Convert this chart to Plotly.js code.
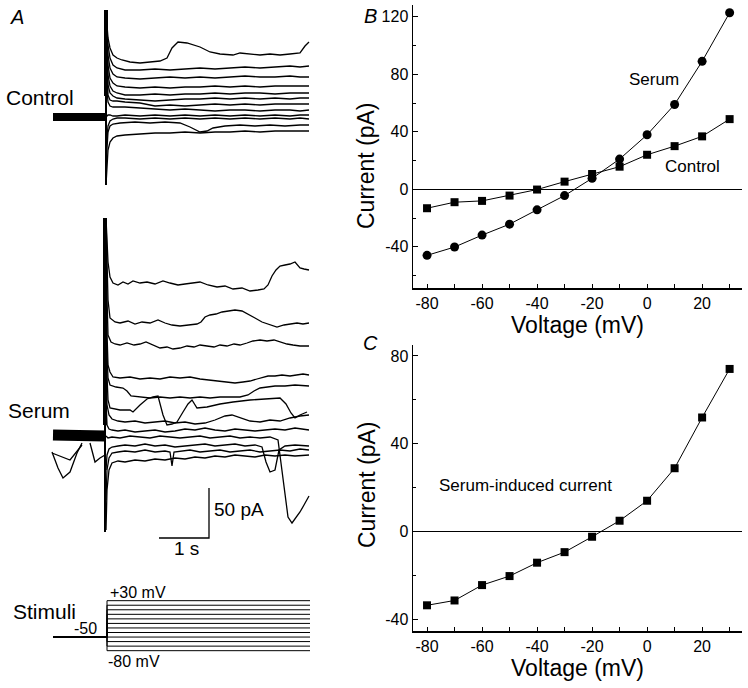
<!DOCTYPE html>
<html>
<head>
<meta charset="utf-8">
<script src="https://cdn.plot.ly/plotly-3.0.1.min.js"></script>
<style>html,body{margin:0;padding:0;background:#fff;}#chart{width:748px;height:688px;}</style>
</head>
<body>
<div id="chart"></div>
<script>
// ---------- Panels B and C: I-V data ----------
const voltages = [-80, -70, -60, -50, -40, -30, -20, -10, 0, 10, 20, 30];
const serumIV = [-46, -40.2, -31.9, -24.3, -14.3, -4.4, 7.6, 21, 37.9, 59, 89, 122.8];
const controlIV = [-13.2, -9, -8.1, -4.4, -0.2, 5.3, 10.6, 15.7, 24, 30, 36.8, 48.8];
const inducedIV = [-33.5, -31.3, -24.3, -20.2, -14.1, -9.3, -2.3, 5, 14.1, 28.9, 52, 74.1];

const xTickVals = [-80, -60, -40, -20, 0, 20];
const xTickText = ['-80', '-60', '-40', '-20', '0', '20'];
const xMinorVals = [-70, -50, -30, -10, 10, 30];
const bTickVals = [-40, 0, 40, 80, 120];
const bTickText = ['-40', '0', '40', '80', '120'];
const bMinorVals = [-60, -20, 20, 60, 100];
const cTickVals = [-40, 0, 40, 80];
const cTickText = ['-40', '0', '40', '80'];
const cMinorVals = [-20, 20, 60];

// ---------- Panel A: current traces (time in s, current in pA) ----------
const ctrlGridT = [0, 0.02, 0.04, 0.08, 0.14, 0.22, 0.38, 0.68, 0.98, 1.28, 1.58, 1.88, 2.18, 2.48, 2.78, 3.08, 3.38, 3.68, 3.88, 4.06];
const ctrlT_30 = [0, 0.02, 0.04, 0.08, 0.14, 0.22, 0.32, 0.48, 0.68, 0.88, 1.08, 1.22, 1.32, 1.44, 1.62, 1.88, 2.08, 2.28, 2.54, 2.68, 2.88, 3.08, 3.28, 3.48, 3.68, 3.88, 3.98, 4.06];
const ctrlI_30 = [104, 91, 78, 68, 61, 58, 56, 54, 53, 54, 55, 58, 68, 74, 73, 69, 64, 62, 61, 63, 62, 61, 62, 61, 62, 63, 70, 74];
const ctrlI_20 = [102, 86, 71, 58, 51, 48, 46, 46, 47, 46, 47, 48, 47, 48, 49, 48, 49, 50, 49, 50];
const ctrlI_10 = [100, 78, 61, 48, 42, 39, 38, 37, 38, 39, 38, 39, 38, 39, 40, 39, 39, 40, 39, 39];
const ctrlI_0 = [98, 71, 51, 38, 33, 30, 29, 28, 29, 28, 29, 29, 30, 29, 30, 29, 30, 30, 30, 30];
const ctrlI_m10 = [96, 61, 41, 30, 25, 23, 21, 21, 22, 21, 22, 22, 23, 22, 23, 23, 22, 23, 23, 23];
const ctrlI_m20 = [91, 51, 31, 23, 20, 18, 17, 16, 15, 16, 17, 17, 18, 17, 18, 17, 18, 17, 18, 18];
const ctrlI_m30 = [86, 41, 21, 16, 15, 15, 14, 13, 10, 11, 10, 11, 12, 11, 12, 11, 12, 12, 12, 12];
const ctrlI_m40 = [76, 26, 14, 10, 9, 9, 9, 8, 7, 6, 7, 6, 5, 6, 6, 5, 6, 6, 5, 6];
const ctrlI_m50 = [0, 0, 1, 1, 0, 0, 1, 0, 1, 0, 1, 0, 1, 0, 1, 0, 1, 0, 1, 1];
const ctrlI_m60 = [-34, -19, -10, -5, -3, -2, -2, -3, -2, -3, -2, -3, -2, -3, -2, -3, -2, -3, -2, -3];
const ctrlT_m70 = [0, 0.02, 0.04, 0.08, 0.14, 0.28, 0.58, 0.88, 1.18, 1.48, 1.68, 1.88, 2.02, 2.14, 2.38, 2.68, 2.98, 3.28, 3.58, 3.88, 4.06];
const ctrlI_m70 = [-49, -29, -16, -10, -8, -7, -6, -7, -6, -7, -11, -16, -15, -12, -10, -9, -10, -9, -10, -9, -9];
const ctrlI_m80 = [-69, -49, -34, -26, -22, -20, -19, -18, -17, -17, -16, -17, -16, -16, -15, -16, -15, -15, -15, -15];
const ctrlPreT = [-1.06, -0.7, -0.35, 0];
const ctrlPreI = [-1, -0.5, -1, -1];
const ctrlSpikeI = [106, -69];

const serT_30 = [0, 0.04, 0.08, 0.14, 0.24, 0.34, 0.44, 0.54, 0.68, 0.82, 0.98, 1.14, 1.28, 1.44, 1.58, 1.74, 1.88, 2.04, 2.22, 2.38, 2.54, 2.72, 2.88, 3.04, 3.16, 3.24, 3.32, 3.40, 3.48, 3.58, 3.68, 3.78, 3.88, 3.96, 4.06];
const serI_30 = [217, 173, 158, 152, 150, 153, 151, 154, 152, 153, 151, 154, 152, 150, 151, 152, 153, 150, 148, 149, 146, 147, 144, 145, 146, 150, 159, 165, 169, 170, 171, 173, 167, 166, 165];
const serT_20 = [0, 0.04, 0.08, 0.18, 0.28, 0.44, 0.58, 0.72, 0.88, 1.04, 1.18, 1.32, 1.48, 1.64, 1.82, 1.90, 1.98, 2.08, 2.20, 2.32, 2.44, 2.58, 2.72, 2.84, 2.98, 3.12, 3.28, 3.42, 3.56, 3.68, 3.82, 3.94, 4.06];
const serI_20 = [217, 135, 117, 113, 112, 114, 111, 113, 112, 115, 112, 110, 109, 110, 111, 113, 118, 120, 121, 123, 124, 125, 124, 121, 117, 113, 110, 108, 110, 111, 112, 111, 112];
const serT_10 = [0, 0.04, 0.10, 0.18, 0.28, 0.42, 0.56, 0.68, 0.80, 0.94, 1.08, 1.22, 1.34, 1.48, 1.62, 1.76, 1.88, 2.02, 2.16, 2.28, 2.42, 2.56, 2.68, 2.82, 2.94, 3.08, 3.22, 3.36, 3.48, 3.62, 3.74, 3.88, 4.06];
const serI_10 = [175, 100, 93, 91, 90, 92, 90, 91, 93, 90, 87, 88, 86, 87, 89, 88, 90, 89, 88, 90, 89, 91, 90, 92, 94, 95, 94, 95, 93, 91, 90, 89, 89];
const serT_0 = [0, 0.04, 0.08, 0.14, 0.28, 0.48, 0.68, 0.88, 1.08, 1.28, 1.48, 1.68, 1.88, 2.08, 2.28, 2.42, 2.58, 2.74, 2.88, 3.02, 3.14, 3.24, 3.38, 3.52, 3.68, 3.82, 3.94, 4.06];
const serI_0 = [135, 70, 63, 58, 57, 58, 56, 57, 56, 58, 57, 58, 56, 55, 54, 53, 52, 53, 54, 56, 58, 59, 59, 60, 59, 60, 61, 60];
const serT_m10 = [0, 0.04, 0.08, 0.20, 0.34, 0.42, 0.50, 0.68, 0.88, 1.08, 1.28, 1.48, 1.68, 1.88, 2.08, 2.28, 2.48, 2.68, 2.84, 2.96, 3.08, 3.20, 3.38, 3.58, 3.78, 4.06];
const serI_m10 = [105, 57, 50, 48, 47, 44, 39, 38, 37, 38, 37, 38, 37, 38, 37, 38, 38, 38, 40, 44, 47, 48, 49, 49, 50, 49];
const serT_m20 = [0, 0.04, 0.08, 0.28, 0.48, 0.54, 0.68, 0.82, 0.94, 1.04, 1.14, 1.22, 1.32, 1.42, 1.54, 1.64, 1.72, 1.82, 2.02, 2.28, 2.54, 2.88, 3.18, 3.48, 3.60, 3.70, 3.78, 3.88, 4.02];
const serI_m20 = [85, 35, 27, 25, 25, 23, 30, 36, 38, 39, 20, 10, 11, 13, 23, 31, 35, 27, 28, 31, 33, 35, 36, 37, 31, 22, 17, 20, 23];
const serT_m30 = [0, 0.02, 0.06, 0.12, 0.24, 0.38, 0.58, 0.78, 0.98, 1.18, 1.38, 1.58, 1.78, 1.98, 2.18, 2.38, 2.52, 2.68, 2.88, 3.08, 3.28, 3.48, 3.68, 3.88, 4.06];
const serI_m30 = [65, 30, 20, 16, 14, 13, 14, 12, 13, 14, 12, 13, 11, 12, 15, 19, 20, 17, 14, 13, 15, 14, 17, 19, 20];
const serGridT = [0, 0.02, 0.06, 0.12, 0.24, 0.38, 0.58, 0.78, 0.98, 1.18, 1.38, 1.58, 1.78, 1.98, 2.18, 2.38, 2.58, 2.78, 2.98, 3.18, 3.38, 3.58, 3.78, 4.06];
const serI_m40 = [35, 10, 6, 5, 4, 5, 3, 4, 5, 3, 4, 6, 5, 7, 5, 4, 6, 5, 4, 5, 6, 5, 7, 5];
const serT_m50 = [0, 0.04, 0.12, 0.28, 0.48, 0.68, 0.88, 1.08, 1.28, 1.48, 1.68, 1.88, 2.08, 2.28, 2.48, 2.68, 2.88, 3.08, 3.28, 3.44, 3.54, 3.64, 3.72, 3.80, 3.88, 3.96, 4.06];
const serI_m50 = [-1, -3, -2, -3, -1, -2, -3, -1, -2, -3, -2, -1, -3, -2, -1, -3, -2, -3, -2, -5, -45, -82, -88, -83, -77, -70, -61];
const serT_m60 = [0, 0.02, 0.06, 0.12, 0.24, 0.38, 0.58, 0.78, 0.98, 1.18, 1.38, 1.58, 1.78, 1.98, 2.18, 2.38, 2.58, 2.78, 2.98, 3.12, 3.20, 3.28, 3.38, 3.46, 3.58, 3.78, 4.06];
const serI_m60 = [-35, -20, -14, -12, -11, -10, -11, -9, -11, -10, -12, -11, -10, -9, -11, -10, -9, -11, -10, -12, -27, -37, -35, -15, -11, -10, -11];
const serT_m70 = [0, 0.02, 0.06, 0.12, 0.24, 0.38, 0.58, 0.78, 0.98, 1.18, 1.28, 1.32, 1.36, 1.48, 1.68, 1.88, 2.08, 2.28, 2.48, 2.68, 2.88, 3.08, 3.28, 3.48, 3.68, 3.88, 4.06];
const serI_m70 = [-65, -35, -23, -18, -17, -16, -17, -15, -17, -16, -17, -31, -17, -16, -15, -17, -16, -15, -17, -16, -15, -17, -16, -15, -16, -14, -15];
const serI_m80 = [-95, -55, -35, -28, -26, -27, -25, -26, -24, -25, -23, -24, -22, -23, -21, -22, -20, -21, -22, -20, -21, -20, -21, -20];
const serPreT = [-1.06, -0.7, -0.35, -0.02];
const serPreI = [0, -1, 0, -1];
const serPreEvtT1 = [-1.08, -0.96, -0.86, -0.72, -0.58, -0.48];
const serPreEvtI1 = [-17, -33, -43, -37, -18, -8];
const serPreEvtT2 = [-0.32, -0.22, -0.12, -0.02];
const serPreEvtI2 = [-8, -27, -23, -20];
const serPreEvtT3 = [-1.08, -0.72, -0.48];
const serPreEvtI3 = [-18, -25, -10];
const serSpikeI = [217, -97];

// scale bar: 1 s and 50 pA
const scaleBarT = [1.06, 2.06, 2.06];
const scaleBarI = [-103, -103, -53];

// stimuli (mV)
const holdingMV = -50;
const stepMV = [-80, -70, -60, -50, -40, -30, -20, -10, 0, 10, 20, 30];
const stimT = [-1.06, 0.02, 0.02, 4.08];

// ---------- helpers (layout positions in pixels) ----------
const W = 748, H = 688;
const px = x => x / W;
const py = y => 1 - y / H;
const FONT = 'Liberation Sans, Arial, Helvetica, sans-serif';
const K = '#000';

const traces = [];
function ln(x, y, xa, ya, w) {
  traces.push({x: x, y: y, xaxis: xa, yaxis: ya, type: 'scatter', mode: 'lines',
    line: {color: K, width: w || 1.3}, hoverinfo: 'skip'});
}

// Control traces
ln(ctrlPreT, ctrlPreI, 'x3', 'y3', 8);
ln(ctrlT_30, ctrlI_30, 'x3', 'y3');
[ctrlI_20, ctrlI_10, ctrlI_0, ctrlI_m10, ctrlI_m20, ctrlI_m30, ctrlI_m40, ctrlI_m50, ctrlI_m60, ctrlI_m80]
  .forEach(a => ln(ctrlGridT, a, 'x3', 'y3'));
ln(ctrlT_m70, ctrlI_m70, 'x3', 'y3');
ln([0, 0], ctrlSpikeI, 'x3', 'y3', 2);
ln([0, 0], [ctrlSpikeI[0], 20], 'x3', 'y3', 4);

// Serum traces
ln(serPreT, serPreI, 'x4', 'y4', 11);
ln(serPreEvtT1, serPreEvtI1, 'x4', 'y4');
ln(serPreEvtT2, serPreEvtI2, 'x4', 'y4');
ln(serPreEvtT3, serPreEvtI3, 'x4', 'y4');
ln(serT_30, serI_30, 'x4', 'y4');
ln(serT_20, serI_20, 'x4', 'y4');
ln(serT_10, serI_10, 'x4', 'y4');
ln(serT_0, serI_0, 'x4', 'y4');
ln(serT_m10, serI_m10, 'x4', 'y4');
ln(serT_m20, serI_m20, 'x4', 'y4');
ln(serT_m30, serI_m30, 'x4', 'y4');
ln(serGridT, serI_m40, 'x4', 'y4');
ln(serT_m50, serI_m50, 'x4', 'y4');
ln(serT_m60, serI_m60, 'x4', 'y4');
ln(serT_m70, serI_m70, 'x4', 'y4');
ln(serGridT, serI_m80, 'x4', 'y4');
ln([-0.02, -0.02], serSpikeI, 'x4', 'y4', 2);
ln([-0.02, -0.02], [serSpikeI[0], 10], 'x4', 'y4', 4);
ln(scaleBarT, scaleBarI, 'x4', 'y4', 1.3);

// Stimuli
stepMV.forEach(v => ln(stimT, [holdingMV, holdingMV, v, v], 'x5', 'y5', 1));

// Panel B
traces.push({x: voltages, y: serumIV, xaxis: 'x', yaxis: 'y', type: 'scatter', mode: 'lines+markers',
  line: {color: K, width: 1}, marker: {symbol: 'circle', size: 9, color: K}, name: 'Serum'});
traces.push({x: voltages, y: controlIV, xaxis: 'x', yaxis: 'y', type: 'scatter', mode: 'lines+markers',
  line: {color: K, width: 1}, marker: {symbol: 'square', size: 8, color: K}, name: 'Control'});
// Panel C
traces.push({x: voltages, y: inducedIV, xaxis: 'x2', yaxis: 'y2', type: 'scatter', mode: 'lines+markers',
  line: {color: K, width: 1}, marker: {symbol: 'square', size: 8, color: K}, name: 'Serum-induced current'});

const ivX = (anchor) => ({
  domain: [px(413), px(742)], range: [-85.1, 34.5], anchor: anchor,
  showline: true, linecolor: K, linewidth: 1.5, showgrid: false, zeroline: false,
  ticks: 'inside', ticklen: 4, tickwidth: 1, tickcolor: K,
  tickmode: 'array', tickvals: xTickVals, ticktext: xTickText,
  minor: {tickvals: xMinorVals, ticks: 'inside', ticklen: 4, tickwidth: 1, tickcolor: K, showgrid: false},
  tickfont: {family: FONT, size: 16, color: K},
  title: {text: 'Voltage (mV)', font: {family: FONT, size: 23, color: K}, standoff: 0}
});
const ivY = (anchor, dom, rng, tv, tt, mv) => ({
  domain: dom, range: rng, anchor: anchor,
  showline: true, linecolor: K, linewidth: 1.5, showgrid: false,
  zeroline: true, zerolinecolor: K, zerolinewidth: 1,
  ticks: 'inside', ticklen: 5, tickwidth: 1, tickcolor: K,
  tickmode: 'array', tickvals: tv, ticktext: tt,
  minor: {tickvals: mv, ticks: 'inside', ticklen: 3, tickwidth: 1, tickcolor: K, showgrid: false},
  tickfont: {family: FONT, size: 16, color: K}
});
const hidX = (anchor) => ({domain: [px(40), px(320)], range: [-1.32, 4.28], anchor: anchor, visible: false, fixedrange: true});

function ann(text, x, y, size, opts) {
  return Object.assign({text: text, x: px(x), y: py(y), xref: 'paper', yref: 'paper', showarrow: false,
    xanchor: 'center', yanchor: 'middle', font: {family: FONT, size: size, color: K}}, opts || {});
}

const layout = {
  width: W, height: H, margin: {l: 0, r: 0, t: 0, b: 0},
  paper_bgcolor: '#fff', plot_bgcolor: 'rgba(0,0,0,0)', showlegend: false,
  font: {family: FONT, color: K},
  xaxis: ivX('y'),
  yaxis: ivY('x', [py(288), py(5)], [-68.7, 128.2], bTickVals, bTickText, bMinorVals),
  xaxis2: ivX('y2'),
  yaxis2: ivY('x2', [py(631), py(345)], [-45.2, 85], cTickVals, cTickText, cMinorVals),
  xaxis3: hidX('y3'),
  yaxis3: {domain: [py(200), py(0)], range: [-84, 116], anchor: 'x3', visible: false, fixedrange: true},
  xaxis4: hidX('y4'),
  yaxis4: {domain: [py(545), py(205)], range: [-110, 230], anchor: 'x4', visible: false, fixedrange: true},
  xaxis5: hidX('y5'),
  yaxis5: {domain: [py(655), py(596)], range: [-89.5, 40.3], anchor: 'x5', visible: false, fixedrange: true},
  annotations: [
    ann('<i>A</i>', 17, 17, 20),
    ann('<i>B</i>', 370, 16, 20),
    ann('<i>C</i>', 370, 343, 20),
    ann('Control', 40, 97, 21),
    ann('Serum', 39, 411, 21),
    ann('Stimuli', 44, 611, 21),
    ann('-50', 99, 628, 16, {xanchor: 'right'}),
    ann('+30 mV', 108, 592, 16, {xanchor: 'left'}),
    ann('-80 mV', 106, 661, 16, {xanchor: 'left'}),
    ann('50 pA', 212, 509, 19, {xanchor: 'left'}),
    ann('1 s', 186, 548, 19),
    ann('Serum', 654, 80, 17),
    ann('Control', 692, 166, 17),
    ann('Serum-induced current', 525, 485, 17),
    ann('Current (pA)', 366, 166, 23, {textangle: -90}),
    ann('Current (pA)', 367, 485, 23, {textangle: -90})
  ]
};

Plotly.newPlot('chart', traces, layout, {staticPlot: true, displayModeBar: false});
</script>
</body>
</html>
